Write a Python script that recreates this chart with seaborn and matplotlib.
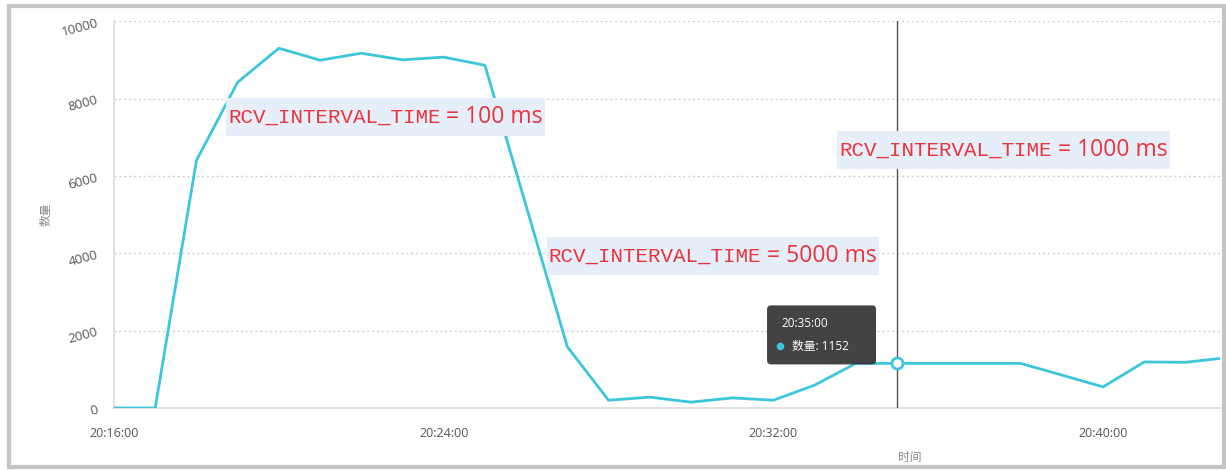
import pandas as pd
import matplotlib
matplotlib.use("Agg")
import matplotlib.pyplot as plt
import matplotlib.dates as mdates
from matplotlib.patches import Rectangle, FancyBboxPatch
from matplotlib.transforms import Bbox, IdentityTransform
import seaborn as sns

# sampled once per minute
times = ["20:16", "20:17", "20:18", "20:19", "20:20", "20:21", "20:22",
         "20:23", "20:24", "20:25", "20:26", "20:27", "20:28", "20:29",
         "20:30", "20:31", "20:32", "20:33", "20:34", "20:35", "20:36",
         "20:37", "20:38", "20:39", "20:40", "20:41", "20:42", "20:43"]
counts = [0, 0, 6400, 8420, 9300, 8990, 9170,
          9000, 9070, 8860, 5220, 1580, 200, 280,
          150, 260, 200, 590, 1152, 1152, 1152,
          1152, 1152, 850, 545, 1190, 1180, 1300]

tick_times = ["20:16", "20:24", "20:32", "20:40"]
y_ticks = [0, 2000, 4000, 6000, 8000, 10000]

# annotation labels: (axes x, axes y, interval in ms)
labels = [(0.103, 0.752, 100), (0.393, 0.393, 5000), (0.656, 0.667, 1000)]

hover_time = "20:35"
hover_value = 1152

day = "2024-01-01 "
df = pd.DataFrame({"time": pd.to_datetime([day + t for t in times]),
                   "count": counts})

LINE = "#3cc6dc"
RED = "#e8343c"
GRAY = "#555555"

sns.set_style("white")
plt.rcParams["font.family"] = ["Open Sans", "Noto Sans CJK SC", "DejaVu Sans"]

fig = plt.figure(figsize=(12.26, 4.70), dpi=100)
ax = fig.add_axes([0.093, 0.132, 0.902, 0.823])

ax.grid(axis="y", color="#cfcfcf", linestyle=(0, (1.5, 2)), linewidth=1)
sns.lineplot(data=df, x="time", y="count", color=LINE, linewidth=2, ax=ax, zorder=3)

ax.set_ylim(0, 10000)
ax.set_xlim(pd.Timestamp(day + "20:16:00"), pd.Timestamp(day + "20:42:50"))
ax.set_yticks(y_ticks)
ax.set_xticks(pd.to_datetime([day + t for t in tick_times]))
ax.xaxis.set_major_formatter(mdates.DateFormatter("%H:%M:%S"))

for s in ["top", "right"]:
    ax.spines[s].set_visible(False)
for s in ["left", "bottom"]:
    ax.spines[s].set_color("#dcdcdc")
    ax.spines[s].set_linewidth(1.2)

ax.tick_params(axis="x", length=4, color="#cccccc", labelsize=9, labelcolor=GRAY, pad=10)
ax.tick_params(axis="y", length=6, color="#dcdcdc", labelsize=9.5, labelcolor=GRAY, pad=6)
for lab in ax.get_yticklabels():
    lab.set_rotation(15)
    lab.set_ha("right")
    lab.set_rotation_mode("anchor")

ax.set_ylabel("数量", fontsize=8.5, color="#888888")
ax.yaxis.set_label_coords(-0.056, 0.5)
ax.set_xlabel("时间", fontsize=8.5, color="#888888")
ax.xaxis.set_label_coords(0.72, -0.112)

# hover cursor line and marker
hx = pd.Timestamp(day + hover_time)
ax.axvline(hx, color="#555555", linewidth=1, zorder=4)
ax.plot([hx], [hover_value], marker="o", markersize=8, markerfacecolor="white",
        markeredgecolor=LINE, markeredgewidth=2, zorder=6, clip_on=False)

# annotation texts
texts = []
for x, y, ms in labels:
    t1 = ax.text(x, y, "RCV_INTERVAL_TIME", transform=ax.transAxes,
                 family="Liberation Mono", fontsize=15, color=RED,
                 ha="left", va="center", zorder=8)
    t2 = ax.annotate(f" = {ms} ms", xy=(1, 0.5), xycoords=t1,
                     ha="left", va="center", fontsize=16.5, color=RED, zorder=8)
    texts.append((t1, t2))

fig.canvas.draw()
renderer = fig.canvas.get_renderer()
for t1, t2 in texts:
    bb = Bbox.union([t1.get_window_extent(renderer), t2.get_window_extent(renderer)])
    cy = (bb.y0 + bb.y1) / 2
    ax.add_patch(Rectangle((bb.x0 - 2, cy - 19), bb.width + 4, 38,
                           transform=IdentityTransform(), facecolor="#e6eef9",
                           edgecolor="none", zorder=7, clip_on=False))

# tooltip box
px, py = ax.transData.transform((mdates.date2num(hx), hover_value))
x0, y0 = px - 130, py - 1
fig.add_artist(FancyBboxPatch((x0, y0), 109, 59, boxstyle="round,pad=0,rounding_size=4",
                              transform=IdentityTransform(), facecolor="#333333",
                              edgecolor="none", alpha=0.92, zorder=9))
fig.text(x0 + 14, y0 + 41, hover_time + ":00", transform=IdentityTransform(),
         color="white", fontsize=8.5, va="center", zorder=10)
fig.add_artist(plt.Line2D([x0 + 13], [y0 + 18], marker="o", markersize=4.5,
                          color=LINE, transform=IdentityTransform(), zorder=10))
fig.text(x0 + 25, y0 + 18, f"数量: {hover_value}", transform=IdentityTransform(),
         color="white", fontsize=8.5, va="center", zorder=10)

# outer frame
fig.add_artist(Rectangle((0.0075, 0.006), 0.9905, 0.981, transform=fig.transFigure,
                         fill=False, edgecolor="#c4c4c4", linewidth=3, zorder=11))

fig.savefig("out.png", dpi=100)
